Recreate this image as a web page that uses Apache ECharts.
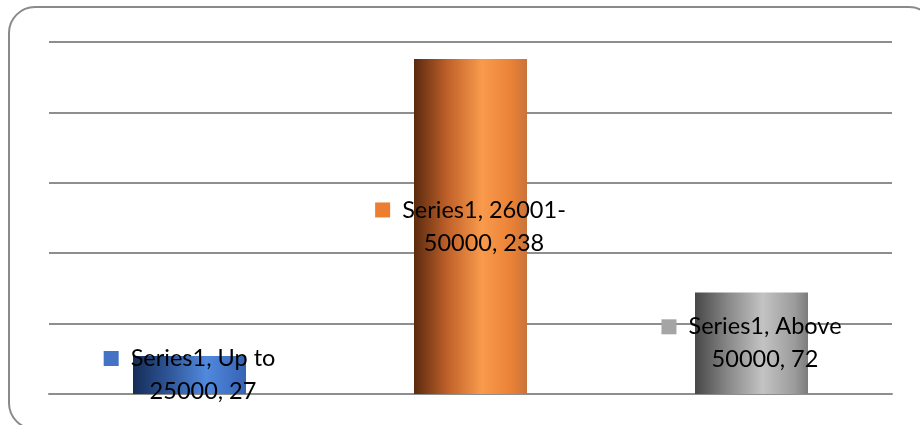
<!DOCTYPE html>
<html>
<head>
<meta charset="utf-8">
<script src="https://cdn.jsdelivr.net/npm/echarts@6/dist/echarts.min.js"></script>
<style>
  html, body { margin: 0; padding: 0; background: #fff; }
  #chart { width: 920px; height: 425px; }
</style>
</head>
<body>
<div id="chart"></div>
<script>
// Income bands and respondent counts
const seriesName = 'Series1';
const categories = ['Up to 25000', '26001-50000', 'Above 50000'];
const values = [27, 238, 72];
const keyColors = ['#4472c4', '#ed7d31', '#a5a5a5'];

// Cylinder-like horizontal shading for each bar
const barGradients = [
  [['0', '#152c57'], ['0.3', '#2d5395'], ['0.65', '#5189dd'], ['0.9', '#3d6dc1'], ['1', '#3863b2']],
  [['0', '#5a2a0e'], ['0.3', '#c0612a'], ['0.6', '#f99a4c'], ['0.86', '#ea8236'], ['1', '#c9733a']],
  [['0', '#474747'], ['0.3', '#8a8a8a'], ['0.6', '#c3c3c3'], ['0.88', '#9c9c9c'], ['1', '#7c7c7c']]
];

function gradient(stops) {
  return new echarts.graphic.LinearGradient(0, 0, 1, 0,
    stops.map(s => ({ offset: parseFloat(s[0]), color: s[1] })));
}

const rich = {
  gap: { width: 12 },
  sp: { width: 27 },
  t: { fontFamily: 'Lato', fontSize: 23.5, lineHeight: 33, color: '#000' }
};
keyColors.forEach((c, i) => {
  rich['k' + i] = { width: 15, height: 15, backgroundColor: c, verticalAlign: 'middle' };
});

const chart = echarts.init(document.getElementById('chart'));
chart.setOption({
  animation: false,
  graphic: [{
    type: 'rect',
    shape: { x: 9, y: 7, width: 926, height: 422, r: 26 },
    style: { fill: 'none', stroke: '#8a8a8a', lineWidth: 2 },
    silent: true
  }],
  grid: { left: 49, right: 28, top: 42, bottom: 31, containLabel: false },
  xAxis: {
    type: 'category',
    data: categories,
    axisLine: { show: true, lineStyle: { color: '#8e8e8e', width: 2 } },
    axisTick: { show: false },
    axisLabel: { show: false }
  },
  yAxis: {
    type: 'value',
    min: 0,
    max: 250,
    interval: 50,
    axisLine: { show: false },
    axisTick: { show: false },
    axisLabel: { show: false },
    splitLine: { lineStyle: { color: '#8e8e8e', width: 2 } }
  },
  series: [{
    name: seriesName,
    type: 'bar',
    barWidth: 113,
    data: values.map((v, i) => ({ value: v, itemStyle: { color: gradient(barGradients[i]) } })),
    label: {
      show: true,
      position: 'inside',
      align: 'center',
      rich: rich,
      formatter: p => {
        const m = p.name.match(/^(.*?)\s*(\d{5})$/);
        const l1 = seriesName + ', ' + m[1];
        const l2 = m[2] + ', ' + p.value;
        return '{k' + p.dataIndex + '|}{gap|}{t|' + l1 + '}\n{sp|}{t|' + l2 + '}';
      }
    }
  }]
});
</script>
</body>
</html>
